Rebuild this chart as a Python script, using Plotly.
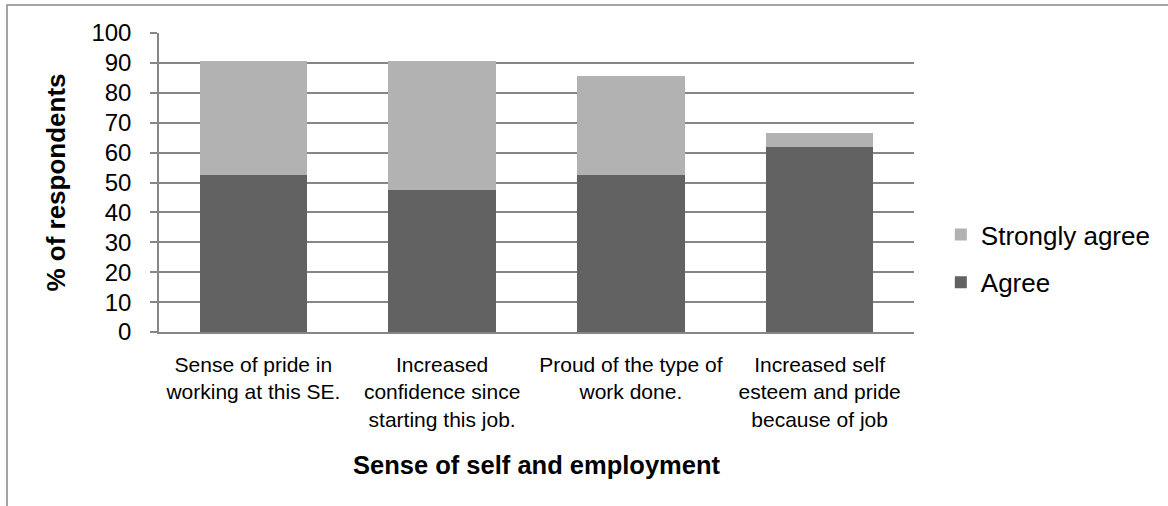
import plotly.graph_objects as go

categories = [
    "Sense of pride in<br>working at this SE.",
    "Increased<br>confidence since<br>starting this job.",
    "Proud of the type of<br>work done.",
    "Increased self<br>esteem and pride<br>because of job",
]
agree = [52.4, 47.6, 52.4, 61.9]
strongly_agree = [38.1, 42.9, 33.3, 4.8]
y_ticks = [0, 10, 20, 30, 40, 50, 60, 70, 80, 90, 100]

FONT = "Liberation Sans, Arial, sans-serif"
W, H = 1168, 506
ML, MR, MT, MB = 159, 249, 33, 174
PW, PH = W - ML - MR, H - MT - MB

fig = go.Figure()
fig.add_trace(go.Bar(x=categories, y=agree, name="Agree",
                     marker=dict(color="#626262", line=dict(width=0)),
                     legendgroup="a", legendrank=2))
fig.add_trace(go.Bar(x=categories, y=strongly_agree, name="Strongly agree",
                     marker=dict(color="#b2b2b2", line=dict(width=0)),
                     legendgroup="b", legendrank=1))


def px_to_paper_x(px):
    return (px - ML) / PW


def px_to_paper_y(py):
    return (H - MB - py) / PH


fig.update_layout(
    width=W, height=H,
    barmode="stack",
    bargap=0.43,
    plot_bgcolor="white",
    paper_bgcolor="white",
    margin=dict(l=ML, r=MR, t=MT, b=MB, pad=0),
    font=dict(family=FONT, color="black"),
    legend=dict(
        x=px_to_paper_x(946), xanchor="left",
        y=px_to_paper_y(211), yanchor="top",
        traceorder="grouped",
        tracegroupgap=11,
        font=dict(size=26, family=FONT, color="black"),
        bgcolor="rgba(0,0,0,0)",
        itemclick=False,
    ),
    xaxis=dict(
        showgrid=False,
        showline=True, linecolor="#868686", linewidth=1.5,
        ticks="",
        tickfont=dict(size=21, family=FONT),
        ticklabelstandoff=13,
        title=dict(text="Sense of self and employment",
                   font=dict(size=25.5, family=FONT, weight="bold"),
                   standoff=27),
        automargin=False,
    ),
    yaxis=dict(
        range=[0, 100],
        tickvals=y_ticks,
        showgrid=True, gridcolor="#868686", gridwidth=1.5,
        showline=True, linecolor="#868686", linewidth=1.5,
        ticks="outside", ticklen=7, tickcolor="#868686", tickwidth=1.5,
        tickfont=dict(size=24, family=FONT),
        ticklabelstandoff=14,
        title=dict(text="% of respondents",
                   font=dict(size=26, family=FONT, weight="bold"),
                   standoff=18),
        automargin=False,
        zeroline=False,
    ),
    shapes=[dict(
        type="rect", xref="paper", yref="paper",
        x0=px_to_paper_x(6), x1=px_to_paper_x(1180),
        y0=px_to_paper_y(520), y1=px_to_paper_y(5),
        line=dict(color="#888888", width=1.5),
        fillcolor="rgba(0,0,0,0)", layer="below",
    )],
)

fig.write_html("out.html",
               config={"displayModeBar": False},
               post_script="document.body.style.margin='0';")
